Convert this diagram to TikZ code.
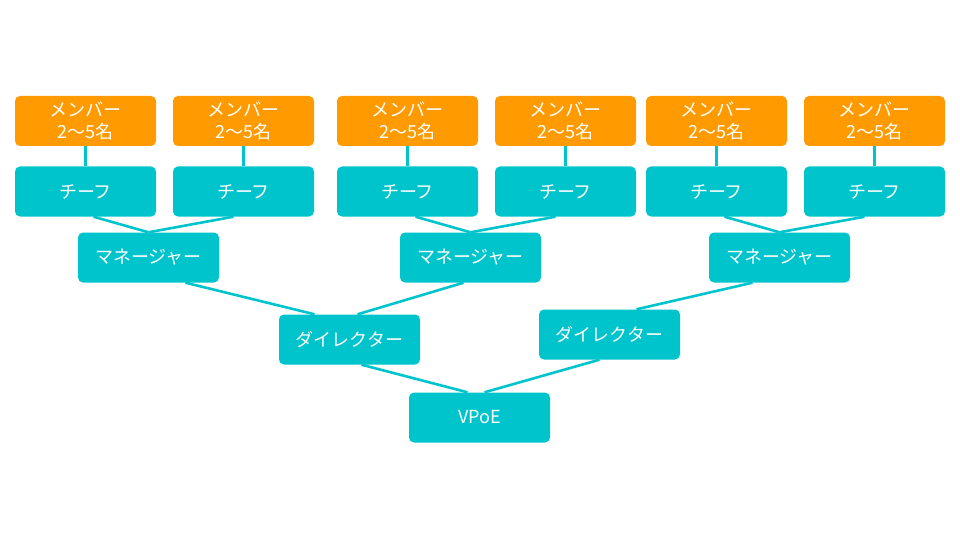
\documentclass[tikz,border=0pt]{standalone}
\usepackage{fontspec}
\setmainfont{Noto Sans CJK JP}
\usepackage{xcolor}
\usepackage{tikz}
\definecolor{teal}{HTML}{00C4CC}
\definecolor{orange}{HTML}{FF9A00}

\begin{document}
\begin{tikzpicture}[x=1pt,y=-1pt,
	box/.style={minimum width=141pt, minimum height=50pt, inner sep=0pt,
		rounded corners=5pt, text=white, font=\fontsize{18}{21.5}\selectfont, align=center},
	tealbox/.style={box, fill=teal},
	orangebox/.style={box, fill=orange},
	link/.style={draw=teal, line width=2.6pt}]
	\useasboundingbox (0,0) rectangle (960,540);
	\foreach \x [count=\i] in {85.5,243.5,407.5,565.5,716.5,874.5} {
		\node[orangebox] (member\i) at (\x,121) {メンバー\\2〜5名};
		\node[tealbox] (chief\i) at (\x,191.5) {チーフ};
		\draw[link] (member\i.south) -- (chief\i.north);
	}
	\node[tealbox] (manager1) at (148.5,257.5) {マネージャー};
	\node[tealbox] (manager2) at (470.5,257.5) {マネージャー};
	\node[tealbox] (manager3) at (779.5,257.5) {マネージャー};
	\node[tealbox] (director1) at (349.5,339.5) {ダイレクター};
	\node[tealbox] (director2) at (609.5,334.5) {ダイレクター};
	\node[tealbox] (vpoe) at (479.5,417.5) {VPoE};
	\foreach \m/\a/\b in {1/1/2, 2/3/4, 3/5/6} {
		\draw[link] ([xshift=8pt]chief\a.south) -- (manager\m.north);
		\draw[link] ([xshift=-10pt]chief\b.south) -- (manager\m.north);
	}
	\draw[link] ([xshift=37pt]manager1.south) -- ([xshift=-35pt]director1.north);
	\draw[link] ([xshift=-7pt]manager2.south) -- ([xshift=8pt]director1.north);
	\draw[link] ([xshift=-27pt]manager3.south) -- ([xshift=27pt]director2.north);
	\draw[link] ([xshift=12pt]director1.south) -- ([xshift=-12pt]vpoe.north);
	\draw[link] ([xshift=-10pt]director2.south) -- ([xshift=5pt]vpoe.north);
\end{tikzpicture}
\end{document}
